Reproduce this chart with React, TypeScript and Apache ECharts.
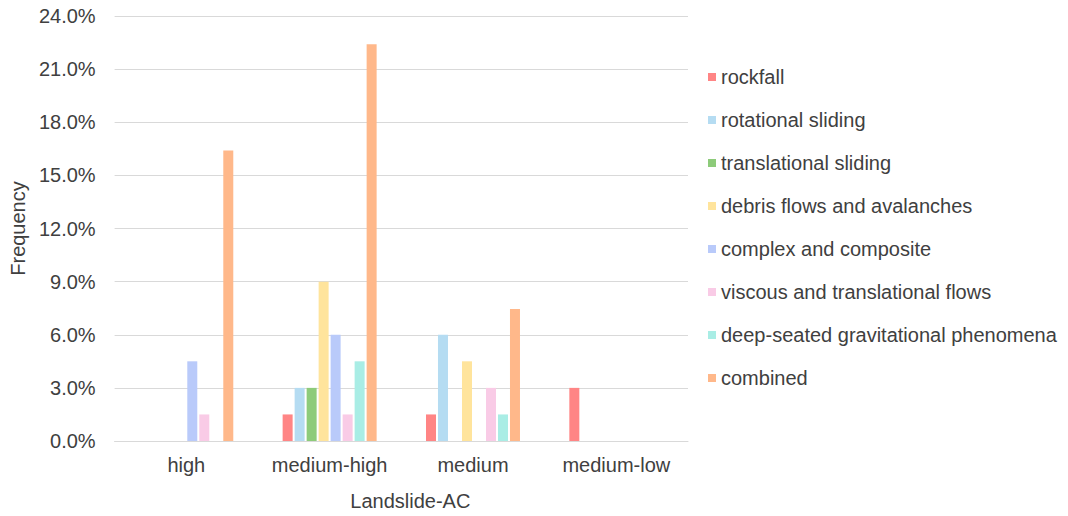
import React, { useEffect, useRef } from "react";
import * as echarts from "echarts";

const categories = ["high", "medium-high", "medium", "medium-low"];

const seriesNames = [
  "rockfall",
  "rotational sliding",
  "translational sliding",
  "debris flows and avalanches",
  "complex and composite",
  "viscous and translational flows",
  "deep-seated gravitational phenomena",
  "combined",
];

// Frequency (%) per landslide class, in category order
const rockfall = [0, 1.5, 1.5, 3.0];
const rotationalSliding = [0, 3.0, 6.0, 0];
const translationalSliding = [0, 3.0, 0, 0];
const debrisFlows = [0, 9.0, 4.5, 0];
const complexComposite = [4.5, 6.0, 0, 0];
const viscousFlows = [1.5, 1.5, 3.0, 0];
const deepSeated = [0, 4.5, 1.5, 0];
const combined = [16.4, 22.4, 7.46, 0];

const seriesValues = [
  rockfall,
  rotationalSliding,
  translationalSliding,
  debrisFlows,
  complexComposite,
  viscousFlows,
  deepSeated,
  combined,
];

const colors = [
  "#FF8585",
  "#B5DCF2",
  "#8DCB7A",
  "#FFE49C",
  "#B9CAFA",
  "#F9CBE6",
  "#A9EDE5",
  "#FFB88A",
];

const yTicks = { min: 0, max: 24, interval: 3 };

const FONT = "'Liberation Sans', Arial, sans-serif";
const TEXT_COLOR = "#404040";

export default function App() {
  const ref = useRef<HTMLDivElement>(null);

  useEffect(() => {
    if (!ref.current) return;
    const chart = echarts.init(ref.current, undefined, { renderer: "svg" });
    chart.setOption({
      animation: false,
      color: colors,
      textStyle: { fontFamily: FONT },
      grid: { left: 112, right: 380, top: 16, bottom: 73 },
      legend: {
        orient: "vertical",
        left: 708,
        top: 67,
        padding: 0,
        itemWidth: 8,
        itemHeight: 8,
        itemGap: 23,
        icon: "rect",
        textStyle: { fontFamily: FONT, fontSize: 20, color: TEXT_COLOR },
        data: seriesNames,
      },
      xAxis: {
        type: "category",
        data: categories,
        name: "Landslide-AC",
        nameLocation: "middle",
        nameGap: 50,
        nameTextStyle: {
          fontFamily: FONT,
          fontSize: 20,
          color: TEXT_COLOR,
          padding: [0, 0, 0, 18],
        },
        axisLine: { lineStyle: { color: "#D9D9D9" } },
        axisTick: { show: false },
        axisLabel: {
          fontFamily: FONT,
          fontSize: 20,
          color: TEXT_COLOR,
          margin: 14,
          interval: 0,
        },
      },
      yAxis: {
        type: "value",
        min: yTicks.min,
        max: yTicks.max,
        interval: yTicks.interval,
        name: "Frequency",
        nameLocation: "middle",
        nameGap: 85,
        nameTextStyle: { fontFamily: FONT, fontSize: 20, color: TEXT_COLOR },
        axisLine: { show: false },
        axisTick: { show: false },
        splitLine: { lineStyle: { color: "#D9D9D9" } },
        axisLabel: {
          fontFamily: FONT,
          fontSize: 20,
          color: TEXT_COLOR,
          margin: 19,
          formatter: (v: number) => v.toFixed(1) + "%",
        },
      },
      series: seriesNames.map((name, i) => ({
        name,
        type: "bar",
        data: seriesValues[i],
        barWidth: 10,
        barGap: "20%",
        itemStyle: { color: colors[i] },
      })),
    });
    return () => chart.dispose();
  }, []);

  return (
    <div
      ref={ref}
      style={{ position: "absolute", left: 0, top: 0, width: 1068, height: 516 }}
    />
  );
}
